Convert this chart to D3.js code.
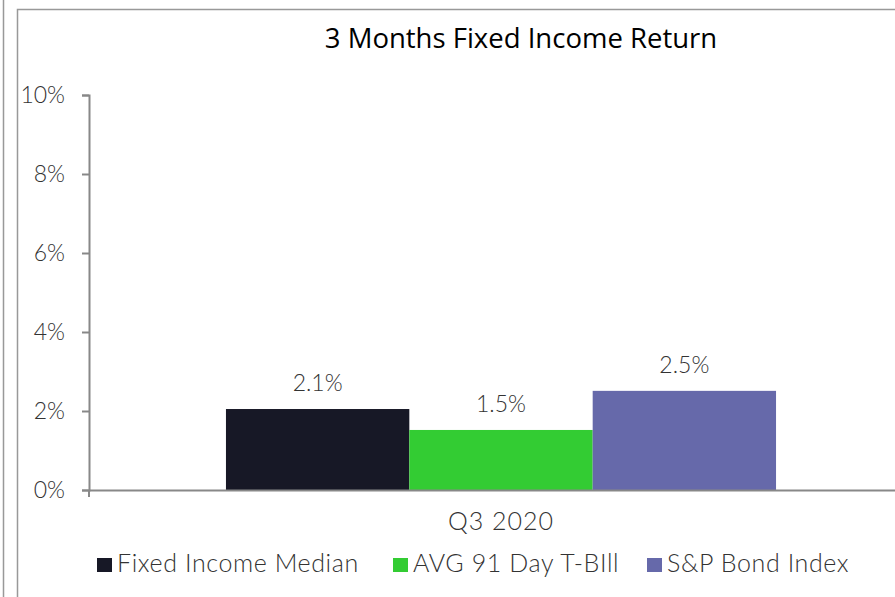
<!DOCTYPE html>
<html>
<head>
<meta charset="utf-8">
<script src="https://cdn.jsdelivr.net/npm/d3@7"></script>
<style>
  body { margin: 0; background: #fff; }
  svg text { font-family: Lato, "Open Sans", sans-serif; }
</style>
</head>
<body>
<div id="chart"></div>
<script>
var categories = ["Q3 2020"];
var series = ["Fixed Income Median", "AVG 91 Day T-BIll", "S&P Bond Index"];
var values = [2.05, 1.52, 2.51];
var valueLabels = ["2.1%", "1.5%", "2.5%"];
var colors = ["#171826", "#33cc33", "#6669aa"];
var yTicks = [0, 2, 4, 6, 8, 10];

var W = 895, H = 597;
var margin = { top: 95, right: -18, bottom: 107, left: 89 },
  width = W - margin.left - margin.right,
  height = H - margin.top - margin.bottom;

var svg = d3.select("#chart").append("svg")
  .attr("width", W).attr("height", H);

// outer frame lines
svg.append("line").attr("x1", 3.5).attr("x2", 3.5).attr("y1", 0).attr("y2", H)
  .attr("stroke", "#999").attr("stroke-width", 1.5);
svg.append("path").attr("d", "M17.5," + H + "V9.5H" + W)
  .attr("fill", "none").attr("stroke", "#999").attr("stroke-width", 1.5);

// title
svg.append("text").attr("x", 521).attr("y", 48)
  .attr("text-anchor", "middle")
  .style("font-family", "'Open Sans', sans-serif")
  .style("font-size", "27.5px").attr("fill", "#000")
  .text("3 Months Fixed Income Return");

var g = svg.append("g").attr("transform", "translate(" + margin.left + "," + margin.top + ")");

var x0 = d3.scaleBand().domain(categories).range([0, width]).paddingInner(0).paddingOuter(0.249);
var x1 = d3.scaleBand().domain(series).range([0, x0.bandwidth()]);
var y = d3.scaleLinear().domain([0, 10]).range([height, 0]);

// y axis
var yAxis = g.append("g")
  .call(d3.axisLeft(y).tickValues(yTicks).tickFormat(function (d) { return d + "%"; }).tickSize(7).tickPadding(17));
yAxis.select(".domain").attr("stroke", "#888").attr("stroke-width", 2);
yAxis.selectAll(".tick line").attr("stroke", "#888").attr("stroke-width", 2);
yAxis.selectAll(".tick text").style("font-size", "23px").style("font-weight", 300).attr("fill", "#333");

// bars
g.selectAll(".bar").data(values).enter().append("rect")
  .attr("x", function (d, i) { return x0(categories[0]) + x1(series[i]); })
  .attr("y", function (d) { return y(d); })
  .attr("width", x1.bandwidth())
  .attr("height", function (d) { return height - y(d); })
  .attr("fill", function (d, i) { return colors[i]; });

// value labels
g.selectAll(".lbl").data(values).enter().append("text")
  .attr("x", function (d, i) { return x0(categories[0]) + x1(series[i]) + x1.bandwidth() / 2; })
  .attr("y", function (d) { return y(d) - 18; })
  .attr("text-anchor", "middle")
  .style("font-size", "23px").style("font-weight", 300).attr("fill", "#333")
  .text(function (d, i) { return valueLabels[i]; });

// x axis
var xAxis = g.append("g").attr("transform", "translate(0," + height + ")")
  .call(d3.axisBottom(x0).tickSize(0).tickPadding(22));
xAxis.select(".domain").attr("stroke", "#888").attr("stroke-width", 2);
xAxis.selectAll(".tick text").style("font-size", "25px").style("font-weight", 300)
  .style("letter-spacing", "1px").attr("fill", "#333");
g.append("line").attr("x1", 0).attr("x2", 0).attr("y1", height).attr("y2", height + 7)
  .attr("stroke", "#888").attr("stroke-width", 2);

// legend
var legendX = [97, 393, 647];
var leg = svg.selectAll(".leg").data(series).enter().append("g")
  .attr("transform", function (d, i) { return "translate(" + legendX[i] + ",558)"; });
leg.append("rect").attr("width", 15).attr("height", 14)
  .attr("fill", function (d, i) { return colors[i]; });
leg.append("text").attr("x", 20).attr("y", 14)
  .style("font-size", "25px").style("font-weight", 300)
  .style("letter-spacing", "0.6px").attr("fill", "#333")
  .text(function (d) { return d; });
</script>
</body>
</html>
